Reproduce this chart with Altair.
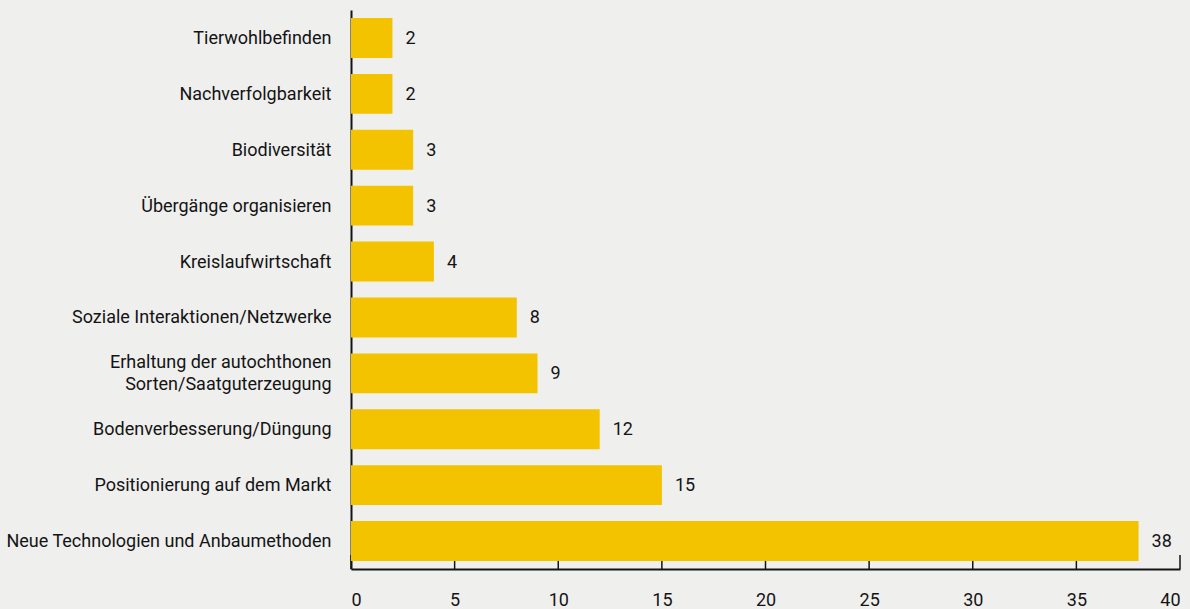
import altair as alt
import pandas as pd

categories = [
    "Tierwohlbefinden",
    "Nachverfolgbarkeit",
    "Biodiversität",
    "Übergänge organisieren",
    "Kreislaufwirtschaft",
    "Soziale Interaktionen/Netzwerke",
    "Erhaltung der autochthonen|Sorten/Saatguterzeugung",
    "Bodenverbesserung/Düngung",
    "Positionierung auf dem Markt",
    "Neue Technologien und Anbaumethoden",
]
values = [2, 2, 3, 3, 4, 8, 9, 12, 15, 38]
tick_values = [0, 5, 10, 15, 20, 25, 30, 35, 40]

df = pd.DataFrame({"cat": categories, "val": values})
ticks_df = pd.DataFrame({"t": tick_values})

FONT = "Roboto"
FS = 18
TXT = "#141414"
BAR = "#F4C300"

xscale = alt.Scale(domain=[0, 40], nice=False, zero=True)
yscale = alt.Scale(domain=categories, paddingInner=0.286, paddingOuter=0.143)

ticks = alt.Chart(ticks_df).mark_rule(color=TXT, strokeWidth=1.5).encode(
    x=alt.X("t:Q", scale=xscale,
            axis=alt.Axis(values=tick_values, ticks=False, grid=False, domain=True,
                          domainColor=TXT, domainWidth=2, labelFont=FONT,
                          labelFontSize=FS, labelColor=TXT, labelPadding=22,
                          title=None)),
    y=alt.value(545),
    y2=alt.value(559),
)

bars = alt.Chart(df).mark_bar(color=BAR).encode(
    y=alt.Y("cat:N", scale=yscale, sort=categories,
            axis=alt.Axis(title=None, ticks=False, grid=False, domain=True,
                          domainColor=TXT, domainWidth=2, labelFont=FONT,
                          labelFontSize=FS, labelColor=TXT, labelPadding=20,
                          labelLimit=400, labelLineHeight=22,
                          labelOffset={"condition": {"test": "indexof(datum.value, '|') >= 0",
                                                     "value": -10}, "value": 1},
                          labelExpr="split(datum.label, '|')")),
    x=alt.X("val:Q", scale=xscale),
)

labels = alt.Chart(df).mark_text(
    align="left", baseline="middle", dx=13, dy=1, font=FONT, fontSize=FS, color=TXT
).encode(
    y=alt.Y("cat:N", scale=yscale, sort=categories),
    x=alt.X("val:Q", scale=xscale),
    text="val:Q",
)

chart = alt.layer(ticks, bars, labels).properties(
    width=829,
    height=559,
    background="#EFEFEE",
    padding={"left": 351, "top": 10, "right": 10, "bottom": 40},
    autosize=alt.AutoSizeParams(type="none"),
).configure_view(stroke=None)

chart.save("out.html", embed_options={"renderer": "svg", "actions": False})
